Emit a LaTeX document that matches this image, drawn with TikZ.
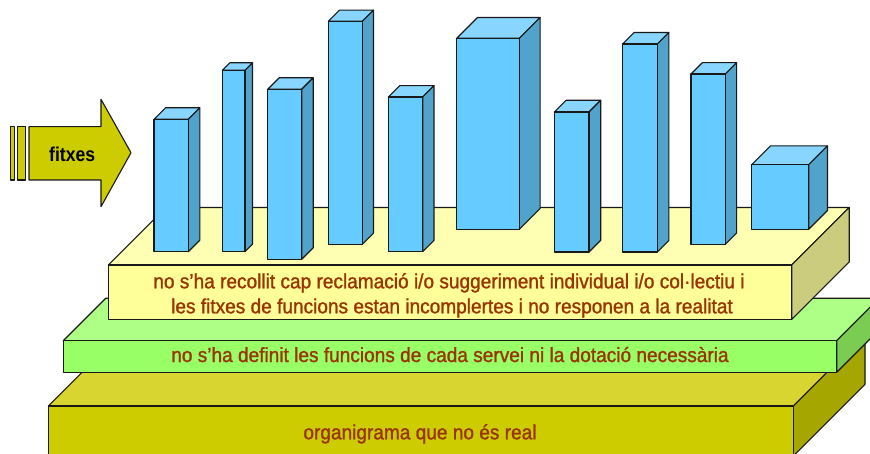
\documentclass[tikz,border=0pt]{standalone}
\usepackage{fontspec}
\newfontfamily\narrowsans[FakeStretch=0.93, FakeBold=1.2]{Liberation Sans}
\newfontfamily\arrowsans[FakeStretch=0.88]{Liberation Sans}
\definecolor{bartop}{HTML}{88D6FF}
\definecolor{barfront}{HTML}{66CCFF}
\definecolor{barside}{HTML}{52A3CC}
\definecolor{yeltop}{HTML}{FFFFB3}
\definecolor{yelfront}{HTML}{FFFF99}
\definecolor{yelside}{HTML}{CCCC7F}
\definecolor{grntop}{HTML}{ADFF85}
\definecolor{grnfront}{HTML}{99FF66}
\definecolor{grnside}{HTML}{7ACC52}
\definecolor{olvtop}{HTML}{D8D530}
\definecolor{olvfront}{HTML}{CCCC00}
\definecolor{olvside}{HTML}{A6A600}
\definecolor{textbrown}{HTML}{993300}
\tikzset{
    edge/.style={draw=black!90, line width=1.1pt, line join=round},
    lowtext/.style={text=textbrown, inner sep=0pt, anchor=base,
        font=\narrowsans\fontsize{20.5}{24}\selectfont},
    arrowtext/.style={text=black, inner sep=0pt,
        font=\arrowsans\bfseries\fontsize{20}{24}\selectfont},
    % front left, front right, top, bottom, depth, colour
    pics/block/.style n args={6}{code={
        \path[edge, fill=#6top] (#1,#3) -- (#2,#3) -- (#2+#5,#3-#5) -- (#1+#5,#3-#5) -- cycle;
        \path[edge, fill=#6side] (#2,#3) -- (#2+#5,#3-#5) -- (#2+#5,#4-#5) -- (#2,#4) -- cycle;
        \path[edge, fill=#6front] (#1,#3) rectangle (#2,#4);
    }},
}
\begin{document}
\begin{tikzpicture}[x=1pt, y=-1pt]
    \useasboundingbox (0,0) rectangle (870,454);
    \clip (0,0) rectangle (870,454);
    % layers
    \pic {block={48.3}{793.3}{406}{456}{71.7}{olv}};
    \pic {block={63.3}{836.7}{340.7}{372.3}{42.4}{grn}};
    \pic {block={108.3}{791.7}{265}{319.5}{57.5}{yel}};
    % bars
    \pic {block={154}{188.3}{119.3}{251.7}{11.5}{bar}};
    \pic {block={222.3}{245}{70.3}{251.7}{7.5}{bar}};
    \pic {block={267.7}{301.7}{89.3}{259.3}{11.5}{bar}};
    \pic {block={328.3}{362.3}{21.3}{244.3}{11.2}{bar}};
    \pic {block={388.3}{422.7}{97}{251.7}{11.3}{bar}};
    \pic {block={456.7}{519.3}{38.3}{229.3}{20.8}{bar}};
    \pic {block={554.3}{589}{112}{252}{11.7}{bar}};
    \pic {block={622.7}{657.3}{44}{252}{11.5}{bar}};
    \pic {block={691}{725.3}{74}{244.3}{11.3}{bar}};
    \pic {block={751.7}{808.7}{164.7}{229.3}{18.8}{bar}};
    % arrow
    \draw[edge, fill=olvfront] (10.3,126.7) rectangle (14.3,180);
    \draw[edge, fill=olvfront] (17.7,126.7) rectangle (25.7,180);
    \draw[edge, fill=olvfront] (29,126.7) -- (101,126.7) -- (101,99.3) -- (131,152.7)
        -- (101,206.7) -- (101,180) -- (29,180) -- cycle;
    \node[arrowtext] (fitxes) at (72.2,154.5) {fitxes};
    % texts
    \node[lowtext] (yellowone) at (449,288.3) {no s’ha recollit cap reclamació i/o suggeriment individual i/o col·lectiu i};
    \node[lowtext] (yellowtwo) at (452,313.3) {les fitxes de funcions estan incomplertes i no responen a la realitat};
    \node[lowtext] (green) at (450,362) {no s’ha definit les funcions de cada servei ni la dotació necessària};
    \node[lowtext] (olive) at (420,439.3) {organigrama que no és real};
\end{tikzpicture}
\end{document}
